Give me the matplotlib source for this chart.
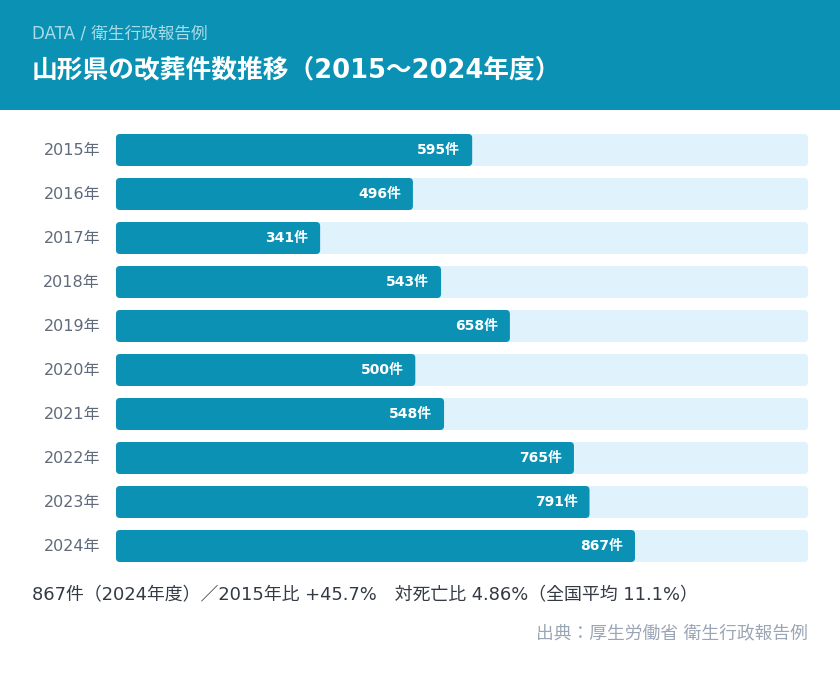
import matplotlib
matplotlib.use("Agg")
import matplotlib.pyplot as plt
from matplotlib.patches import FancyBboxPatch, Rectangle

plt.rcParams['font.family'] = ['DejaVu Sans', 'Noto Sans CJK JP']

years = ["2015年", "2016年", "2017年", "2018年", "2019年",
         "2020年", "2021年", "2022年", "2023年", "2024年"]
values = [595, 496, 341, 543, 658, 500, 548, 765, 791, 867]
unit = "件"
subtitle = "DATA / 衛生行政報告例"
title = "山形県の改葬件数推移（2015～2024年度）"
summary = "867件（2024年度）／2015年比 +45.7%　対死亡比 4.86%（全国平均 11.1%）"
source = "出典：厚生労働省 衛生行政報告例"

W, H = 840, 676
fig = plt.figure(figsize=(W / 100, H / 100), dpi=100)
fig.patch.set_facecolor("white")

# header band
fig.patches.append(Rectangle((0, 1 - 110 / H), 1, 110 / H, transform=fig.transFigure,
                             facecolor="#0a91b4", edgecolor="none", zorder=0))
fig.text(32 / W, 1 - 34 / H, subtitle, color="#a9dbe8", fontsize=12,
         va="center", ha="left")
fig.text(32 / W, 1 - 70 / H, title, color="white", fontsize=18.5, fontweight="bold",
         va="center", ha="left")

# bar axes
left, right = 116, 808
top, bottom = 128, 568
ax = fig.add_axes([left / W, 1 - bottom / H, (right - left) / W, (bottom - top) / H])
xmax = max(values) * 4 / 3
n = len(values)
ax.set_xlim(0, xmax)
ax.set_ylim(n, 0)
ax.axis("off")

px_x = xmax / (right - left)
px_y = n / (bottom - top)
r = 4
bh = 32 * px_y
for i, (yl, v) in enumerate(zip(years, values)):
    yc = i + 0.5
    track = FancyBboxPatch((0, yc - bh / 2), xmax, bh,
                           boxstyle=f"round,pad=0,rounding_size={r * px_x}",
                           mutation_aspect=px_y / px_x,
                           facecolor="#e0f2fc", edgecolor="none", zorder=1)
    ax.add_patch(track)
    bar = FancyBboxPatch((0, yc - bh / 2), v, bh,
                         boxstyle=f"round,pad=0,rounding_size={r * px_x}",
                         mutation_aspect=px_y / px_x,
                         facecolor="#0a91b4", edgecolor="none", zorder=2)
    ax.add_patch(bar)
    ax.text(v - 12 * px_x, yc, f"{v}{unit}", color="white", fontsize=10,
            fontweight="bold", ha="right", va="center", zorder=3)
    ax.text(-16 * px_x, yc, yl, color="#5f6b7a", fontsize=11.5,
            ha="right", va="center", clip_on=False)

fig.text(32 / W, 1 - 595 / H, summary, color="#333a44", fontsize=12.9,
         ha="left", va="center")
fig.text(808 / W, 1 - 633 / H, source, color="#9aa5b5", fontsize=12.8,
         ha="right", va="center")

fig.savefig("out.png", dpi=100, facecolor="white")
